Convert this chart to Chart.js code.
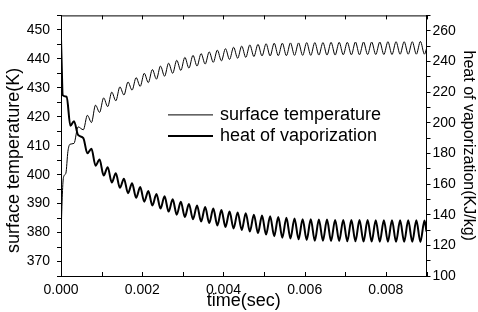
<!DOCTYPE html>
<html>
<head>
<meta charset="utf-8">
<script src="https://cdn.jsdelivr.net/npm/chart.js@4.4.1/dist/chart.umd.min.js"></script>
<style>
  html, body { margin: 0; padding: 0; background: #fff; }
  #wrap { width: 478px; height: 312px; }
</style>
</head>
<body>
<div id="wrap"><canvas id="chart" width="478" height="312"></canvas></div>
<script>
// start-up transients
const startTimeT = [0, 0.00003, 0.00006, 0.00012, 0.00017, 0.00022, 0.00032, 0.00042];
const startTemp = [378, 392, 399, 400.5, 408, 410.5, 410.8, 416.5];
const startTimeH = [0, 0.00002, 0.00004, 0.00014, 0.00023, 0.00032, 0.00042];
const startHeat = [255, 235, 218, 217, 198, 201, 192];

// oscillating part: one sample per half period (peak / trough)
const time = [
  0.00055, 0.00065, 0.00075, 0.00085, 0.00095,
  0.00105, 0.00115, 0.00125, 0.00135, 0.00145, 0.00155, 0.00165, 0.00175, 0.00185, 0.00195,
  0.00205, 0.00215, 0.00225, 0.00235, 0.00245, 0.00255, 0.00265, 0.00275, 0.00285, 0.00295,
  0.00305, 0.00315, 0.00325, 0.00335, 0.00345, 0.00355, 0.00365, 0.00375, 0.00385, 0.00395,
  0.00405, 0.00415, 0.00425, 0.00435, 0.00445, 0.00455, 0.00465, 0.00475, 0.00485, 0.00495,
  0.00505, 0.00515, 0.00525, 0.00535, 0.00545, 0.00555, 0.00565, 0.00575, 0.00585, 0.00595,
  0.00605, 0.00615, 0.00625, 0.00635, 0.00645, 0.00655, 0.00665, 0.00675, 0.00685, 0.00695,
  0.00705, 0.00715, 0.00725, 0.00735, 0.00745, 0.00755, 0.00765, 0.00775, 0.00785, 0.00795,
  0.00805, 0.00815, 0.00825, 0.00835, 0.00845, 0.00855, 0.00865, 0.00875, 0.00885, 0.00895,
  0.009
];

const surfaceTemp = [
  415.5, 420.5, 418, 424, 421.5,
  426.5, 423.5, 428.5, 425.5, 430.3, 427.5, 432, 429.2, 433.5, 430.5,
  435, 431.8, 436.3, 433, 437.5, 434, 438.5, 435, 439.5, 436,
  440.5, 436.8, 441.2, 437.5, 441.8, 438.2, 442.4, 438.8, 443, 439.3,
  443.5, 439.8, 444, 440.2, 444.4, 440.5, 444.8, 440.8, 445, 441,
  445.2, 441, 445.4, 441.1, 445.4, 441.1, 445.5, 441.2, 445.5, 441.2,
  445.6, 441.2, 445.6, 441.3, 445.6, 441.3, 445.7, 441.3, 445.7, 441.4,
  445.7, 441.4, 445.8, 441.4, 445.8, 441.5, 445.8, 441.5, 445.8, 441.5,
  445.9, 441.5, 445.9, 441.6, 445.9, 441.6, 445.9, 441.6, 446, 441.6,
  443.5
];

const heatVap = [
  190, 180, 183, 172, 176,
  165.5, 171, 161, 167, 157.5, 163.5, 154, 160.5, 151, 158,
  148.5, 155.5, 146, 153.5, 144, 152, 142, 150, 140, 148.5,
  138.5, 147, 137, 146, 135.5, 145, 134.5, 144, 133, 143,
  132, 142, 131, 141.5, 130, 141, 129, 140, 128, 139.5,
  127, 139, 126, 138.5, 125, 138, 124.5, 137.5, 124, 137,
  123.5, 137, 123, 136.8, 123, 136.8, 122.8, 136.6, 122.8, 136.6,
  122.6, 136.5, 122.6, 136.5, 122.5, 136.5, 122.5, 136.4, 122.4, 136.4,
  122.4, 136.4, 122.3, 136.3, 122.3, 136.3, 122.3, 136.3, 122.2, 136.2,
  129
];

const seriesNames = ['surface temperature', 'heat of vaporization'];

const tempPoints = startTimeT.map((t, i) => ({ x: t, y: startTemp[i] }))
  .concat(time.map((t, i) => ({ x: t, y: surfaceTemp[i] })));
const heatPoints = startTimeH.map((t, i) => ({ x: t, y: startHeat[i] }))
  .concat(time.map((t, i) => ({ x: t, y: heatVap[i] })));

const FONT = 'Liberation Sans, Arial, Helvetica, sans-serif';

// inner ticks on top/bottom + top border
const frameTicks = {
  id: 'frameTicks',
  afterDraw(chart) {
    const { ctx, chartArea: a, scales } = chart;
    ctx.save();
    ctx.strokeStyle = '#000';
    ctx.lineWidth = 1;
    ctx.beginPath();
    ctx.moveTo(a.left, a.top + 0.5);
    ctx.lineTo(a.right, a.top + 0.5);
    scales.x.ticks.forEach(t => {
      const px = Math.round(scales.x.getPixelForValue(t.value)) + 0.5;
      ctx.moveTo(px, a.bottom);
      ctx.lineTo(px, a.bottom - 4);
      ctx.moveTo(px, a.top);
      ctx.lineTo(px, a.top + 4);
    });
    ctx.stroke();
    ctx.restore();
  }
};

// legend inside the plot + left axis title (sits a bit below centre in the original)
const innerLegend = {
  id: 'innerLegend',
  afterDraw(chart) {
    const { ctx, chartArea: a } = chart;
    const x0 = a.left + 107, x1 = a.left + 152, tx = a.left + 159;
    const rows = [a.top + 99, a.top + 120];
    ctx.save();
    ctx.fillStyle = '#000';
    ctx.strokeStyle = '#000';
    ctx.font = '18px ' + FONT;
    ctx.textBaseline = 'middle';
    chart.data.datasets.forEach((ds, i) => {
      ctx.lineWidth = ds.borderWidth;
      ctx.beginPath();
      ctx.moveTo(x0, rows[i] + 0.5);
      ctx.lineTo(x1, rows[i] + 0.5);
      ctx.stroke();
      ctx.fillText(ds.label, tx, rows[i] + 1);
    });

    ctx.translate(14, a.top + 145);
    ctx.rotate(-Math.PI / 2);
    ctx.textAlign = 'center';
    ctx.fillText('surface temperature(K)', 0, 0);
    ctx.restore();
  }
};

new Chart(document.getElementById('chart'), {
  type: 'line',
  data: {
    datasets: [
      {
        label: seriesNames[0],
        data: tempPoints,
        yAxisID: 'y',
        borderColor: '#000',
        borderWidth: 1,
        pointRadius: 0,
        cubicInterpolationMode: 'monotone'
      },
      {
        label: seriesNames[1],
        data: heatPoints,
        yAxisID: 'y2',
        borderColor: '#000',
        borderWidth: 2,
        pointRadius: 0,
        cubicInterpolationMode: 'monotone'
      }
    ]
  },
  options: {
    responsive: false,
    animation: false,
    layout: { padding: { top: 11, left: 0, right: 0, bottom: 0 } },
    plugins: { legend: { display: false }, tooltip: { enabled: false } },
    scales: {
      x: {
        type: 'linear',
        min: 0,
        max: 0.009,
        border: { display: true, color: '#000', width: 1 },
        grid: { drawOnChartArea: false, drawTicks: false },
        ticks: {
          stepSize: 0.001,
          autoSkip: false,
          maxRotation: 0,
          padding: 6,
          color: '#000',
          font: { family: FONT, size: 14 },
          callback: v => (Math.round(v * 1000) % 2 === 0 ? v.toFixed(3) : '')
        },
        title: {
          display: true,
          text: 'time(sec)',
          color: '#000',
          font: { family: FONT, size: 18 },
          padding: { top: -5, bottom: 0 }
        },
        afterFit: s => { s.height = 36; }
      },
      y: {
        position: 'left',
        min: 365,
        max: 455,
        border: { display: true, color: '#000', width: 1 },
        grid: { drawOnChartArea: false, tickLength: 4, color: '#000' },
        ticks: {
          stepSize: 5,
          autoSkip: false,
          padding: 7,
          color: '#000',
          font: { family: FONT, size: 14 },
          callback: v => (v % 10 === 0 ? v : '')
        },
        afterFit: s => { s.width = 61; }
      },
      y2: {
        position: 'right',
        min: 100,
        max: 270,
        border: { display: true, color: '#000', width: 1 },
        grid: { drawOnChartArea: false, tickLength: 4, color: '#000' },
        ticks: {
          stepSize: 10,
          autoSkip: false,
          padding: 2,
          color: '#000',
          font: { family: FONT, size: 14 },
          callback: v => (v % 20 === 0 ? v : '')
        },
        title: {
          display: true,
          text: 'heat of vaporization(KJ/kg)',
          color: '#000',
          font: { family: FONT, size: 16 },
          padding: 0
        },
        afterFit: s => { s.width = 51.5; }
      }
    }
  },
  plugins: [frameTicks, innerLegend]
});
</script>
</body>
</html>
